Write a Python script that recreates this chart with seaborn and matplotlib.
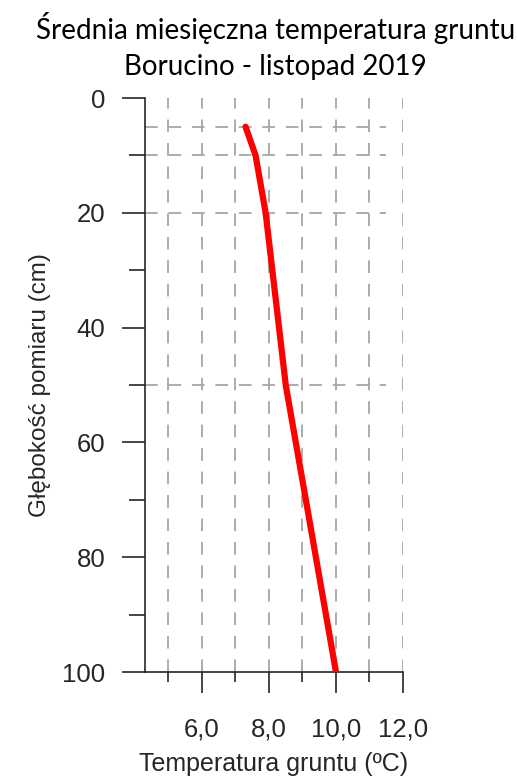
import matplotlib
matplotlib.use("Agg")
import matplotlib.pyplot as plt
import seaborn as sns
import pandas as pd
from matplotlib.ticker import MultipleLocator, FuncFormatter

# dane pomiarowe
glebokosc = [5, 10, 20, 50, 100]
temperatura = [7.3, 7.6, 7.9, 8.5, 10.0]
x_major = [6, 8, 10, 12]
y_major = [0, 20, 40, 60, 80, 100]

df = pd.DataFrame({"glebokosc": glebokosc, "temperatura": temperatura})

sns.set_style("white")
plt.rcParams["font.family"] = ["Liberation Sans", "DejaVu Sans"]

fig = plt.figure(figsize=(5.17, 7.76), dpi=100)
ax = fig.add_axes([0.2805, 0.134, 0.499, 0.7397])

# siatka pionowa co 1 st.
for xv in range(5, 13):
    ax.axvline(xv, color="#a6a6a6", lw=1.3, dashes=(7, 6), zorder=0)
# linie glebokosci pomiaru
ax.hlines(glebokosc[:-1], 4.3, 11.5, color="#a6a6a6", lw=1.3,
          linestyles=(0, (7, 6)), zorder=0)

sns.lineplot(data=df, x="temperatura", y="glebokosc", sort=False,
             color="#ff0000", lw=4.5, ax=ax, zorder=3,
             solid_capstyle="round")

ax.set_xlim(4.3, 12)
ax.set_ylim(100, 0)
ax.set_xticks(x_major)
ax.xaxis.set_minor_locator(MultipleLocator(1))
ax.set_yticks(y_major)
ax.yaxis.set_minor_locator(MultipleLocator(10))
ax.xaxis.set_major_formatter(FuncFormatter(lambda v, p: f"{v:.1f}".replace(".", ",")))

for s in ["top", "right"]:
    ax.spines[s].set_visible(False)
for s in ["left", "bottom"]:
    ax.spines[s].set_color("#262626")
    ax.spines[s].set_linewidth(1.2)

ax.tick_params(axis="x", which="major", direction="out", length=15, width=1.2,
               color="#262626", pad=18, labelsize=18.5)
ax.tick_params(axis="x", which="minor", direction="out", length=7, width=1.2,
               color="#262626")
ax.tick_params(axis="y", which="major", direction="out", length=16.5, width=1.2,
               color="#262626", pad=12, labelsize=18.5)
ax.tick_params(axis="y", which="minor", direction="out", length=11.5, width=1.2,
               color="#262626")
ax.tick_params(bottom=True, left=True, which="both")

ax.set_xlabel("Temperatura gruntu (ºC)", fontsize=18, labelpad=7)
ax.set_ylabel("Głębokość pomiaru (cm)", fontsize=17.5, labelpad=8)

fig.text(0.5325, 0.984, "Średnia miesięczna temperatura gruntu\nBorucino - listopad 2019",
         ha="center", va="top", fontsize=20, linespacing=1.45,
         family=["Lato", "DejaVu Sans"], color="#000000")

fig.savefig("out.png", dpi=100)
